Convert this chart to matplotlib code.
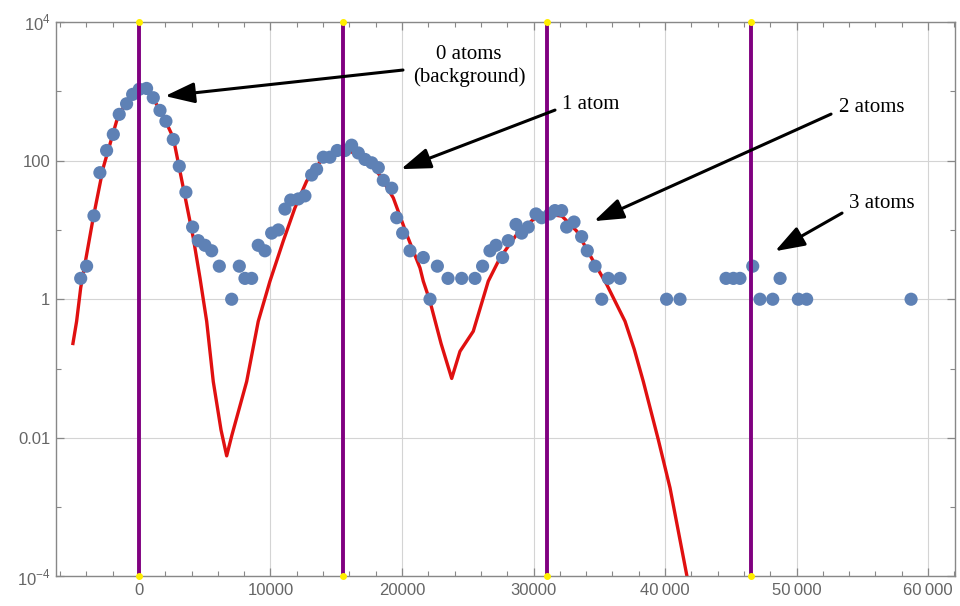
import numpy as np
import matplotlib
matplotlib.use("Agg")
from matplotlib import pyplot as plt
from matplotlib.patches import ArrowStyle

plt.rcParams['font.family'] = ['Liberation Sans', 'DejaVu Sans']
plt.rcParams['mathtext.fontset'] = 'custom'
plt.rcParams['mathtext.rm'] = 'Liberation Sans'

# measured counts (blue points)
pts_x = [-4430, -3980, -3420, -2970, -2460, -1950, -1500, -940, -480, 20, 580, 1090,
         1600, 2050, 2610, 3065, 3570, 4080, 4510, 5020, 5530, 6110, 7050, 7630,
         8060, 8570, 9070, 9580, 10090, 10600, 11100, 11540, 12120, 12620, 13130,
         13510, 14020, 14520, 15080, 15670, 16170, 16680, 17190, 17700, 18200,
         18580, 19220, 19600, 20050, 20610, 21620, 22130, 22690, 23500, 24540,
         25550, 26130, 26690, 27150, 27650, 28080, 28670, 29100, 29600, 30190,
         30620, 31250, 31630, 32140, 32520, 33080, 33660, 34090, 34680, 35190,
         35690, 36580, 40120, 41140, 44640, 45200, 45700, 46670, 47220, 48190,
         48750, 50140, 50770, 58710]
pts_y = [2, 3, 16, 67, 140, 239, 465, 661, 903, 1070, 1100, 808,
         530, 370, 202, 83, 35, 11, 7, 6, 5, 3, 1, 3,
         2, 2, 6, 5, 9, 10, 20, 27, 28, 31, 62,
         75, 112, 112, 140, 140, 167, 129, 104, 93, 79,
         52, 40, 15, 9, 5, 4, 1, 3, 2, 2,
         2, 3, 5, 6, 4, 7, 12, 9, 11, 17,
         15, 17, 19, 19, 11, 13, 8, 5, 3, 1,
         2, 2, 1, 1, 2, 2, 2, 3, 1, 1,
         2, 1, 1, 1]

# fit curve (red)
fit_x = [-5020, -4740, -4430, -3480, -2720, -1700, -910, 0, 840, 1750, 2610, 3370,
         4130, 4640, 5150, 5650, 6240, 6670, 7070, 8190, 9070, 9960, 10970, 11860,
         12750, 13920, 15510, 17190, 18300, 19340, 20360, 21370, 21620, 22080, 22260,
         22970, 23780, 24410, 25420, 26560, 27450, 28720, 29990, 31100, 32170,
         33290, 34550, 35570, 36960, 37660, 38350, 39490, 40380, 41700]
fit_y = [0.23, 0.48, 1.46, 14.9, 78.7, 372, 748, 1070, 933, 480, 214, 40.5,
         7.7, 2.03, 0.48, 0.065, 0.013, 0.0055, 0.011, 0.065, 0.48, 1.82, 6.9, 20.8,
         50.6, 105, 151, 109, 62, 29, 8.6, 2.83, 1.82, 1.0, 0.75,
         0.23, 0.072, 0.177, 0.345, 1.82, 3.94, 8.6, 14.2, 16.9, 15.8,
         9.6, 3.54, 1.63, 0.48, 0.19, 0.065, 0.0094, 0.0019, 0.000094]

# atom number positions
atom_x = [0, 15500, 31000, 46500]

xticks = [0, 10000, 20000, 30000, 40000, 50000, 60000]
xticklabels = ['0', '10000', '20000', '30000', '40\u2009000', '50\u2009000', '60\u2009000']
yticks = [1e-4, 1e-2, 1, 100, 1e4]
yticklabels = [r'$10^{-4}$', '0.01', '1', '100', r'$10^{4}$']

fig = plt.figure(figsize=(9.6, 6.06), dpi=100)
ax = fig.add_axes([0.0583, 0.0487, 0.9365, 0.915])

ax.plot(fit_x, fit_y, color='#e01010', lw=2.4, zorder=2)
ax.scatter(pts_x, pts_y, s=90, color='#5e81b5', edgecolors='none', zorder=3)
for xa in atom_x:
    ax.plot([xa, xa], [1e-4, 1e4], color='#800080', lw=2.8, zorder=4, solid_capstyle='butt')
ax.scatter(atom_x + atom_x, [1e4] * 4 + [1e-4] * 4, s=16, color='#ffee00',
           zorder=5, clip_on=False)

ax.set_yscale('log')
ax.set_xlim(-6310, 62050)
ax.set_ylim(1e-4, 1e4)

ax.set_xticks(xticks)
ax.set_xticklabels(xticklabels)
ax.set_xticks(np.arange(-6000, 62001, 2000), minor=True)
ax.set_yticks(yticks)
ax.set_yticklabels(yticklabels)
ax.set_yticks([1e-3, 0.1, 10, 1000], minor=True)
ax.yaxis.set_minor_formatter(matplotlib.ticker.NullFormatter())

ax.tick_params(which='both', direction='in', top=True, right=True, color='#888888')
ax.tick_params(which='major', length=6, width=0.9, labelsize=12, labelcolor='#666666')
ax.tick_params(which='minor', length=3.5, width=0.8)
ax.tick_params(axis='x', pad=5)
ax.tick_params(axis='y', pad=4)
for s in ax.spines.values():
    s.set_color('#888888')
    s.set_linewidth(1.0)

ax.grid(True, which='major', color='#d4d4d4', lw=0.8)
ax.set_axisbelow(True)

# annotations
arr = dict(arrowstyle=ArrowStyle('-|>', head_length=1.0, head_width=0.35),
           color='black', lw=2.2, mutation_scale=18, shrinkA=0, shrinkB=0)
tfont = dict(family='Liberation Serif', fontsize=15, color='black')

ax.annotate('', xy=(1977, 854), xytext=(20076, 2028), arrowprops=arr, zorder=6)
ax.text(25095, 2300, '0 atoms\n(background)', ha='center', va='center',
        linespacing=1.25, **tfont)

ax.annotate('', xy=(19924, 75.4), xytext=(31635, 536), arrowprops=arr, zorder=6)
ax.text(32167, 655, '1 atom', ha='left', va='center', **tfont)

ax.annotate('', xy=(34601, 13.4), xytext=(52624, 469), arrowprops=arr, zorder=6)
ax.text(53232, 592, '2 atoms', ha='left', va='center', **tfont)

ax.annotate('', xy=(48365, 4.93), xytext=(53460, 17.5), arrowprops=arr, zorder=6)
ax.text(53992, 24.3, '3 atoms', ha='left', va='center', **tfont)

fig.savefig('out.png', dpi=100)
